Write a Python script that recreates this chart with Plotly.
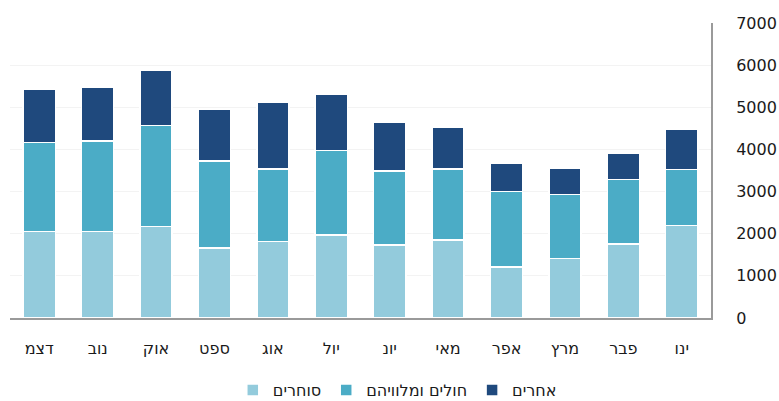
import plotly.graph_objects as go

months = ["ינו", "פבר", "מרץ", "אפר", "מאי", "יונ", "יול", "אוג", "ספט", "אוק", "נוב", "דצמ"]
traders = [2200, 1760, 1410, 1210, 1850, 1730, 1970, 1810, 1660, 2170, 2050, 2050]
patients = [1320, 1530, 1520, 1790, 1680, 1760, 2000, 1720, 2070, 2400, 2150, 2120]
others = [950, 620, 620, 670, 990, 1150, 1340, 1580, 1230, 1310, 1280, 1250]
y_ticks = [0, 1000, 2000, 3000, 4000, 5000, 6000, 7000]

series = [
    ("סוחרים", traders, "#93CBDC"),
    ("חולים ומלוויהם", patients, "#4BACC6"),
    ("אחרים", others, "#1F497D"),
]

fig = go.Figure()
for name, vals, color in series:
    fig.add_trace(go.Bar(
        x=months, y=vals, name=name,
        marker=dict(color=color, line=dict(color="white", width=1.5)),
    ))

FONT = "DejaVu Sans"
fig.update_layout(
    barmode="stack",
    bargap=0.45,
    width=779, height=401,
    margin=dict(l=10, r=68, t=23, b=83, autoexpand=False),
    paper_bgcolor="white", plot_bgcolor="white",
    font=dict(family=FONT, size=16, color="#1a1a1a"),
    showlegend=True,
    legend=dict(
        orientation="h", traceorder="normal",
        xref="container", yref="container",
        x=0.51, xanchor="center", y=0.027, yanchor="middle",
        font=dict(family=FONT, size=16, color="#1a1a1a"),
        itemwidth=30,
    ),
    xaxis=dict(
        autorange="reversed",
        automargin=False,
        showgrid=False,
        showline=True, linecolor="#9a9a9a", linewidth=2,
        ticks="", ticklabelstandoff=15,
        tickfont=dict(family=FONT, size=16),
    ),
    yaxis=dict(
        side="right", range=[0, 7000],
        automargin=False,
        tickvals=y_ticks,
        showgrid=True, gridcolor="#f3f3f3", gridwidth=1,
        showline=True, linecolor="#9a9a9a", linewidth=2,
        zeroline=False,
        ticks="", ticklabelstandoff=20,
        tickfont=dict(family=FONT, size=16),
    ),
)

fig.write_html("out.html", config={"displayModeBar": False},
               post_script="document.body.style.margin='0';")
